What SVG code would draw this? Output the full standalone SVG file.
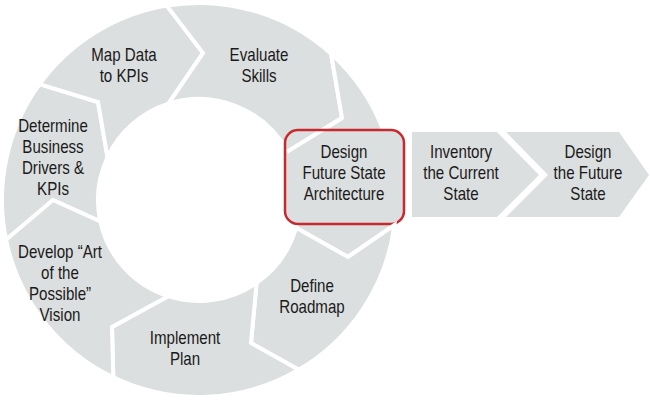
<svg xmlns="http://www.w3.org/2000/svg" width="650" height="400" viewBox="0 0 650 400">
<style>
.seg{fill:#dcdfdf;stroke:#ffffff;stroke-width:4;stroke-linejoin:miter}
.arrow{fill:#dcdfdf;stroke:none}
.lbl{font-family:'Liberation Sans',Arial,sans-serif;font-size:18px;fill:#1a1a1a;text-anchor:middle}
.hl{fill:none;stroke:#c62a2f;stroke-width:2.5}
.hlfill{fill:#dcdfdf;stroke:none}
.gap{fill:none;stroke:#ffffff;stroke-width:4}
</style>
<rect width="650" height="400" fill="#ffffff"/>
<g id="ring">
<g id="determine">
<path class="seg" d="M6.1,239.8 A197,197 0 0 1 39.6,84.2 L98,102 L107.5,157.3 A101,101 0 0 0 100.3,221.5 L53,200 Z"/>
<text class="lbl" transform="matrix(0.84,0,0,1,53,0)" y="132"><tspan x="0">Determine</tspan><tspan x="0" dy="21">Business</tspan><tspan x="0" dy="21">Drivers &amp;</tspan><tspan x="0" dy="21">KPIs</tspan></text>
</g>
<g id="mapdata">
<path class="seg" d="M39.6,84.2 A197,197 0 0 1 166.8,5.6 L203,53 L168.5,103.7 A101,101 0 0 0 107.5,157.3 L98,102 Z"/>
<text class="lbl" transform="matrix(0.84,0,0,1,124,0)" y="61"><tspan x="0">Map Data</tspan><tspan x="0" dy="21">to KPIs</tspan></text>
</g>
<g id="evaluate">
<path class="seg" d="M166.8,5.6 A197,197 0 0 1 331.1,53.8 L342,118 L287.5,151.4 A101,101 0 0 0 168.5,103.7 L203,53 Z"/>
<text class="lbl" transform="matrix(0.84,0,0,1,259,0)" y="61"><tspan x="0">Evaluate</tspan><tspan x="0" dy="21">Skills</tspan></text>
</g>
<g id="design">
<path class="seg" d="M331.1,53.8 A197,197 0 0 1 394.4,225 L348,257 L296.1,227.8 A101,101 0 0 0 287.5,151.4 L342,118 Z"/>
<rect class="hlfill" x="285" y="130" width="119" height="94" rx="13"/>
<path class="gap" d="M287,151.7 L342,118"/>
<rect class="hl" x="285" y="130" width="119" height="94" rx="13"/>
<text class="lbl" transform="matrix(0.84,0,0,1,344,0)" y="158"><tspan x="0">Design</tspan><tspan x="0" dy="21">Future State</tspan><tspan x="0" dy="21">Architecture</tspan></text>
</g>
<g id="define">
<path class="seg" d="M394.4,225 A197,197 0 0 1 298.7,369.8 L251,343 L256.6,282.9 A101,101 0 0 0 296.1,227.8 L348,257 Z"/>
<text class="lbl" transform="matrix(0.84,0,0,1,312,0)" y="292"><tspan x="0">Define</tspan><tspan x="0" dy="21">Roadmap</tspan></text>
</g>
<g id="implement">
<path class="seg" d="M298.7,369.8 A197,197 0 0 1 113.3,377.4 L112,327 L168.2,296.2 A101,101 0 0 0 256.6,282.9 L251,343 Z"/>
<text class="lbl" transform="matrix(0.84,0,0,1,185,0)" y="344"><tspan x="0">Implement</tspan><tspan x="0" dy="21">Plan</tspan></text>
</g>
<g id="develop">
<path class="seg" d="M113.3,377.4 A197,197 0 0 1 6.1,239.8 L53,200 L100.3,221.5 A101,101 0 0 0 168.2,296.2 L112,327 Z"/>
<text class="lbl" transform="matrix(0.84,0,0,1,60,0)" y="258"><tspan x="0">Develop “Art</tspan><tspan x="0" dy="21">of the</tspan><tspan x="0" dy="21">Possible”</tspan><tspan x="0" dy="21">Vision</tspan></text>
</g>
</g>
<g id="inventory">
<path class="arrow" d="M412,132 L497,132 L539,175 L497,217 L412,217 Z"/>
<text class="lbl" transform="matrix(0.84,0,0,1,461,0)" y="158"><tspan x="0">Inventory</tspan><tspan x="0" dy="21">the Current</tspan><tspan x="0" dy="21">State</tspan></text>
</g>
<g id="designfuture">
<path class="arrow" d="M506,132 L619,132 L649,175 L619,217 L506,217 L548,175 Z"/>
<text class="lbl" transform="matrix(0.84,0,0,1,588,0)" y="158"><tspan x="0">Design</tspan><tspan x="0" dy="21">the Future</tspan><tspan x="0" dy="21">State</tspan></text>
</g>
</svg>
